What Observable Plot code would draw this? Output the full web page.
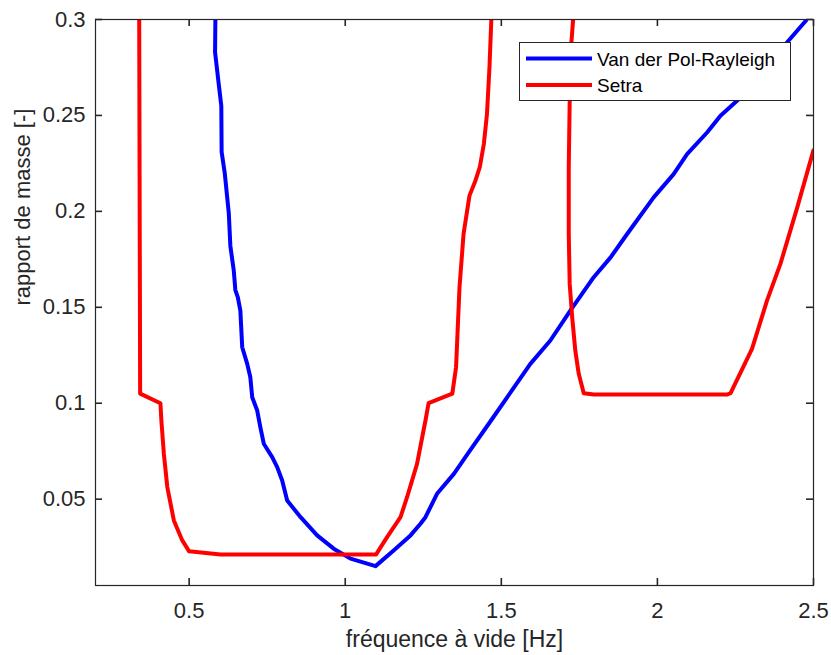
<!DOCTYPE html>
<html>
<head>
<meta charset="utf-8">
<script src="https://cdn.jsdelivr.net/npm/d3@7"></script>
<script src="https://cdn.jsdelivr.net/npm/@observablehq/plot@0.6"></script>
<style>
  body { margin: 0; background: #fff; }
  #chart svg { display: block; }
</style>
</head>
<body>
<div id="chart"></div>
<script>
// Stability boundaries: mass ratio [-] against no-load frequency [Hz]
// Each point is [frequency, mass ratio].

const vanDerPol = [
  [0.584, 0.300], [0.583, 0.283], [0.595, 0.266], [0.603, 0.255], [0.604, 0.231],
  [0.614, 0.220], [0.627, 0.199], [0.632, 0.182], [0.643, 0.169], [0.648, 0.159],
  [0.656, 0.1552], [0.664, 0.1483], [0.670, 0.1292], [0.686, 0.1205], [0.696, 0.1135],
  [0.702, 0.1031], [0.718, 0.0962], [0.728, 0.0875], [0.739, 0.0789], [0.766, 0.0719],
  [0.782, 0.0667], [0.798, 0.0597], [0.814, 0.0493], [0.857, 0.0406], [0.910, 0.0311],
  [0.963, 0.0242], [1.017, 0.0190], [1.097, 0.0151], [1.155, 0.0233], [1.209, 0.0311],
  [1.241, 0.0372], [1.257, 0.0406], [1.294, 0.0528], [1.348, 0.0632], [1.396, 0.0745],
  [1.471, 0.0919], [1.593, 0.1205], [1.657, 0.1327], [1.721, 0.1483], [1.796, 0.1657],
  [1.850, 0.1760], [1.903, 0.1882], [1.988, 0.2073], [2.052, 0.2194], [2.095, 0.2298],
  [2.159, 0.2411], [2.202, 0.2498], [2.255, 0.2576], [2.309, 0.2663], [2.415, 0.2880],
  [2.479, 0.300]
];

// Setra, low-frequency branch
const setraLow = [
  [0.340, 0.300], [0.343, 0.105], [0.408, 0.100], [0.411, 0.091], [0.419, 0.0736],
  [0.430, 0.0563], [0.451, 0.0389], [0.478, 0.0285], [0.500, 0.0228], [0.600, 0.0212],
  [1.099, 0.0212], [1.134, 0.0302], [1.177, 0.0406], [1.198, 0.0510], [1.230, 0.0684],
  [1.257, 0.0910], [1.267, 0.100], [1.343, 0.105], [1.355, 0.1188], [1.366, 0.1604],
  [1.379, 0.1882], [1.398, 0.2082], [1.417, 0.2160], [1.431, 0.2230], [1.444, 0.2351],
  [1.454, 0.2507], [1.462, 0.2750], [1.468, 0.300]
];

// Setra, high-frequency branch
const setraHigh = [
  [1.730, 0.300], [1.724, 0.287], [1.719, 0.2574], [1.716, 0.2229], [1.716, 0.1882],
  [1.719, 0.1622], [1.727, 0.1448], [1.737, 0.1274], [1.748, 0.1153], [1.764, 0.1052],
  [1.796, 0.1045], [2.223, 0.1045], [2.234, 0.1052], [2.303, 0.1283], [2.351, 0.1535],
  [2.394, 0.1726], [2.448, 0.2021], [2.501, 0.2325]
];

const xTicks = [0.5, 1, 1.5, 2, 2.5];
const yTicks = [0.05, 0.1, 0.15, 0.2, 0.25, 0.3];
const xDomain = [0.2, 2.5];
const yDomain = [0.005, 0.3];

const seriesNames = ["Van der Pol-Rayleigh", "Setra"];
const seriesColors = ["#0000ff", "#ff0000"];

const xTitle = "fréquence à vide [Hz]";
const yTitle = "rapport de masse [-]";

const ink = "#262626";
const W = 831, H = 655;
const mL = 95, mR = 18, mT = 19, mB = 70;
const frameH = H - mT - mB;
const frameW = W - mL - mR;
const tickLen = 7;
// inward tick length expressed in each scale's units
const xTickLen = tickLen * (xDomain[1] - xDomain[0]) / frameW;
const yTickLen = tickLen * (yDomain[1] - yDomain[0]) / frameH;

const lineStyle = {x: d => d[0], y: d => d[1], strokeWidth: 4, clip: true,
                   strokeLinejoin: "round", strokeLinecap: "butt"};

const tickStyle = {stroke: ink, strokeWidth: 1.6};

const chart = Plot.plot({
  width: W,
  height: H,
  marginLeft: mL, marginRight: mR, marginTop: mT, marginBottom: mB,
  style: {fontFamily: "'Liberation Sans', Arial, Helvetica, sans-serif", background: "#fff", color: ink},
  x: {domain: xDomain},
  y: {domain: yDomain},
  marks: [
    Plot.line(vanDerPol, {...lineStyle, stroke: seriesColors[0]}),
    Plot.line(setraLow, {...lineStyle, stroke: seriesColors[1]}),
    Plot.line(setraHigh, {...lineStyle, stroke: seriesColors[1]}),

    // inward ticks on all four sides of the box
    Plot.ruleX(xTicks, {x: d => d, y1: yDomain[0], y2: yDomain[0] + yTickLen, ...tickStyle}),
    Plot.ruleX(xTicks, {x: d => d, y1: yDomain[1] - yTickLen, y2: yDomain[1], ...tickStyle}),
    Plot.ruleY(yTicks, {y: d => d, x1: xDomain[0], x2: xDomain[0] + xTickLen, ...tickStyle}),
    Plot.ruleY(yTicks, {y: d => d, x1: xDomain[1] - xTickLen, x2: xDomain[1], ...tickStyle}),

    Plot.axisX(xTicks, {anchor: "bottom", tickSize: 0, tickPadding: 17, fontSize: 22,
                        tickFormat: d => String(d), label: null, fill: ink}),
    Plot.axisY(yTicks, {anchor: "left", tickSize: 0, tickPadding: 10, fontSize: 22,
                        tickFormat: d => String(d), label: null, fill: ink}),

    Plot.frame({stroke: ink, strokeWidth: 1.2}),

    Plot.text([xTitle], {frameAnchor: "bottom", lineAnchor: "bottom", dy: 61.5,
                         fontSize: 23, fill: ink}),
    Plot.text([yTitle], {frameAnchor: "left", lineAnchor: "bottom", rotate: -90,
                         dx: -65.5, dy: 3, fontSize: 22, fill: ink})
  ]
});

document.getElementById("chart").append(chart);

// Legend box drawn over the plot area, top right
const svg = d3.select(chart);
const legend = svg.append("g")
  .attr("font-family", "'Liberation Sans', Arial, Helvetica, sans-serif")
  .attr("text-anchor", "start");
legend.append("rect")
  .attr("x", 519.5).attr("y", 42.5).attr("width", 271).attr("height", 58)
  .attr("fill", "#fff").attr("stroke", ink).attr("stroke-width", 1);
const rowY = [58.5, 85];
seriesNames.forEach((name, i) => {
  legend.append("line")
    .attr("x1", 526).attr("x2", 592).attr("y1", rowY[i]).attr("y2", rowY[i])
    .attr("stroke", seriesColors[i]).attr("stroke-width", 4);
  legend.append("text")
    .attr("x", 597).attr("y", rowY[i] + 7)
    .attr("text-anchor", "start")
    .attr("font-size", 19).attr("fill", "#000")
    .text(name);
});
</script>
</body>
</html>
